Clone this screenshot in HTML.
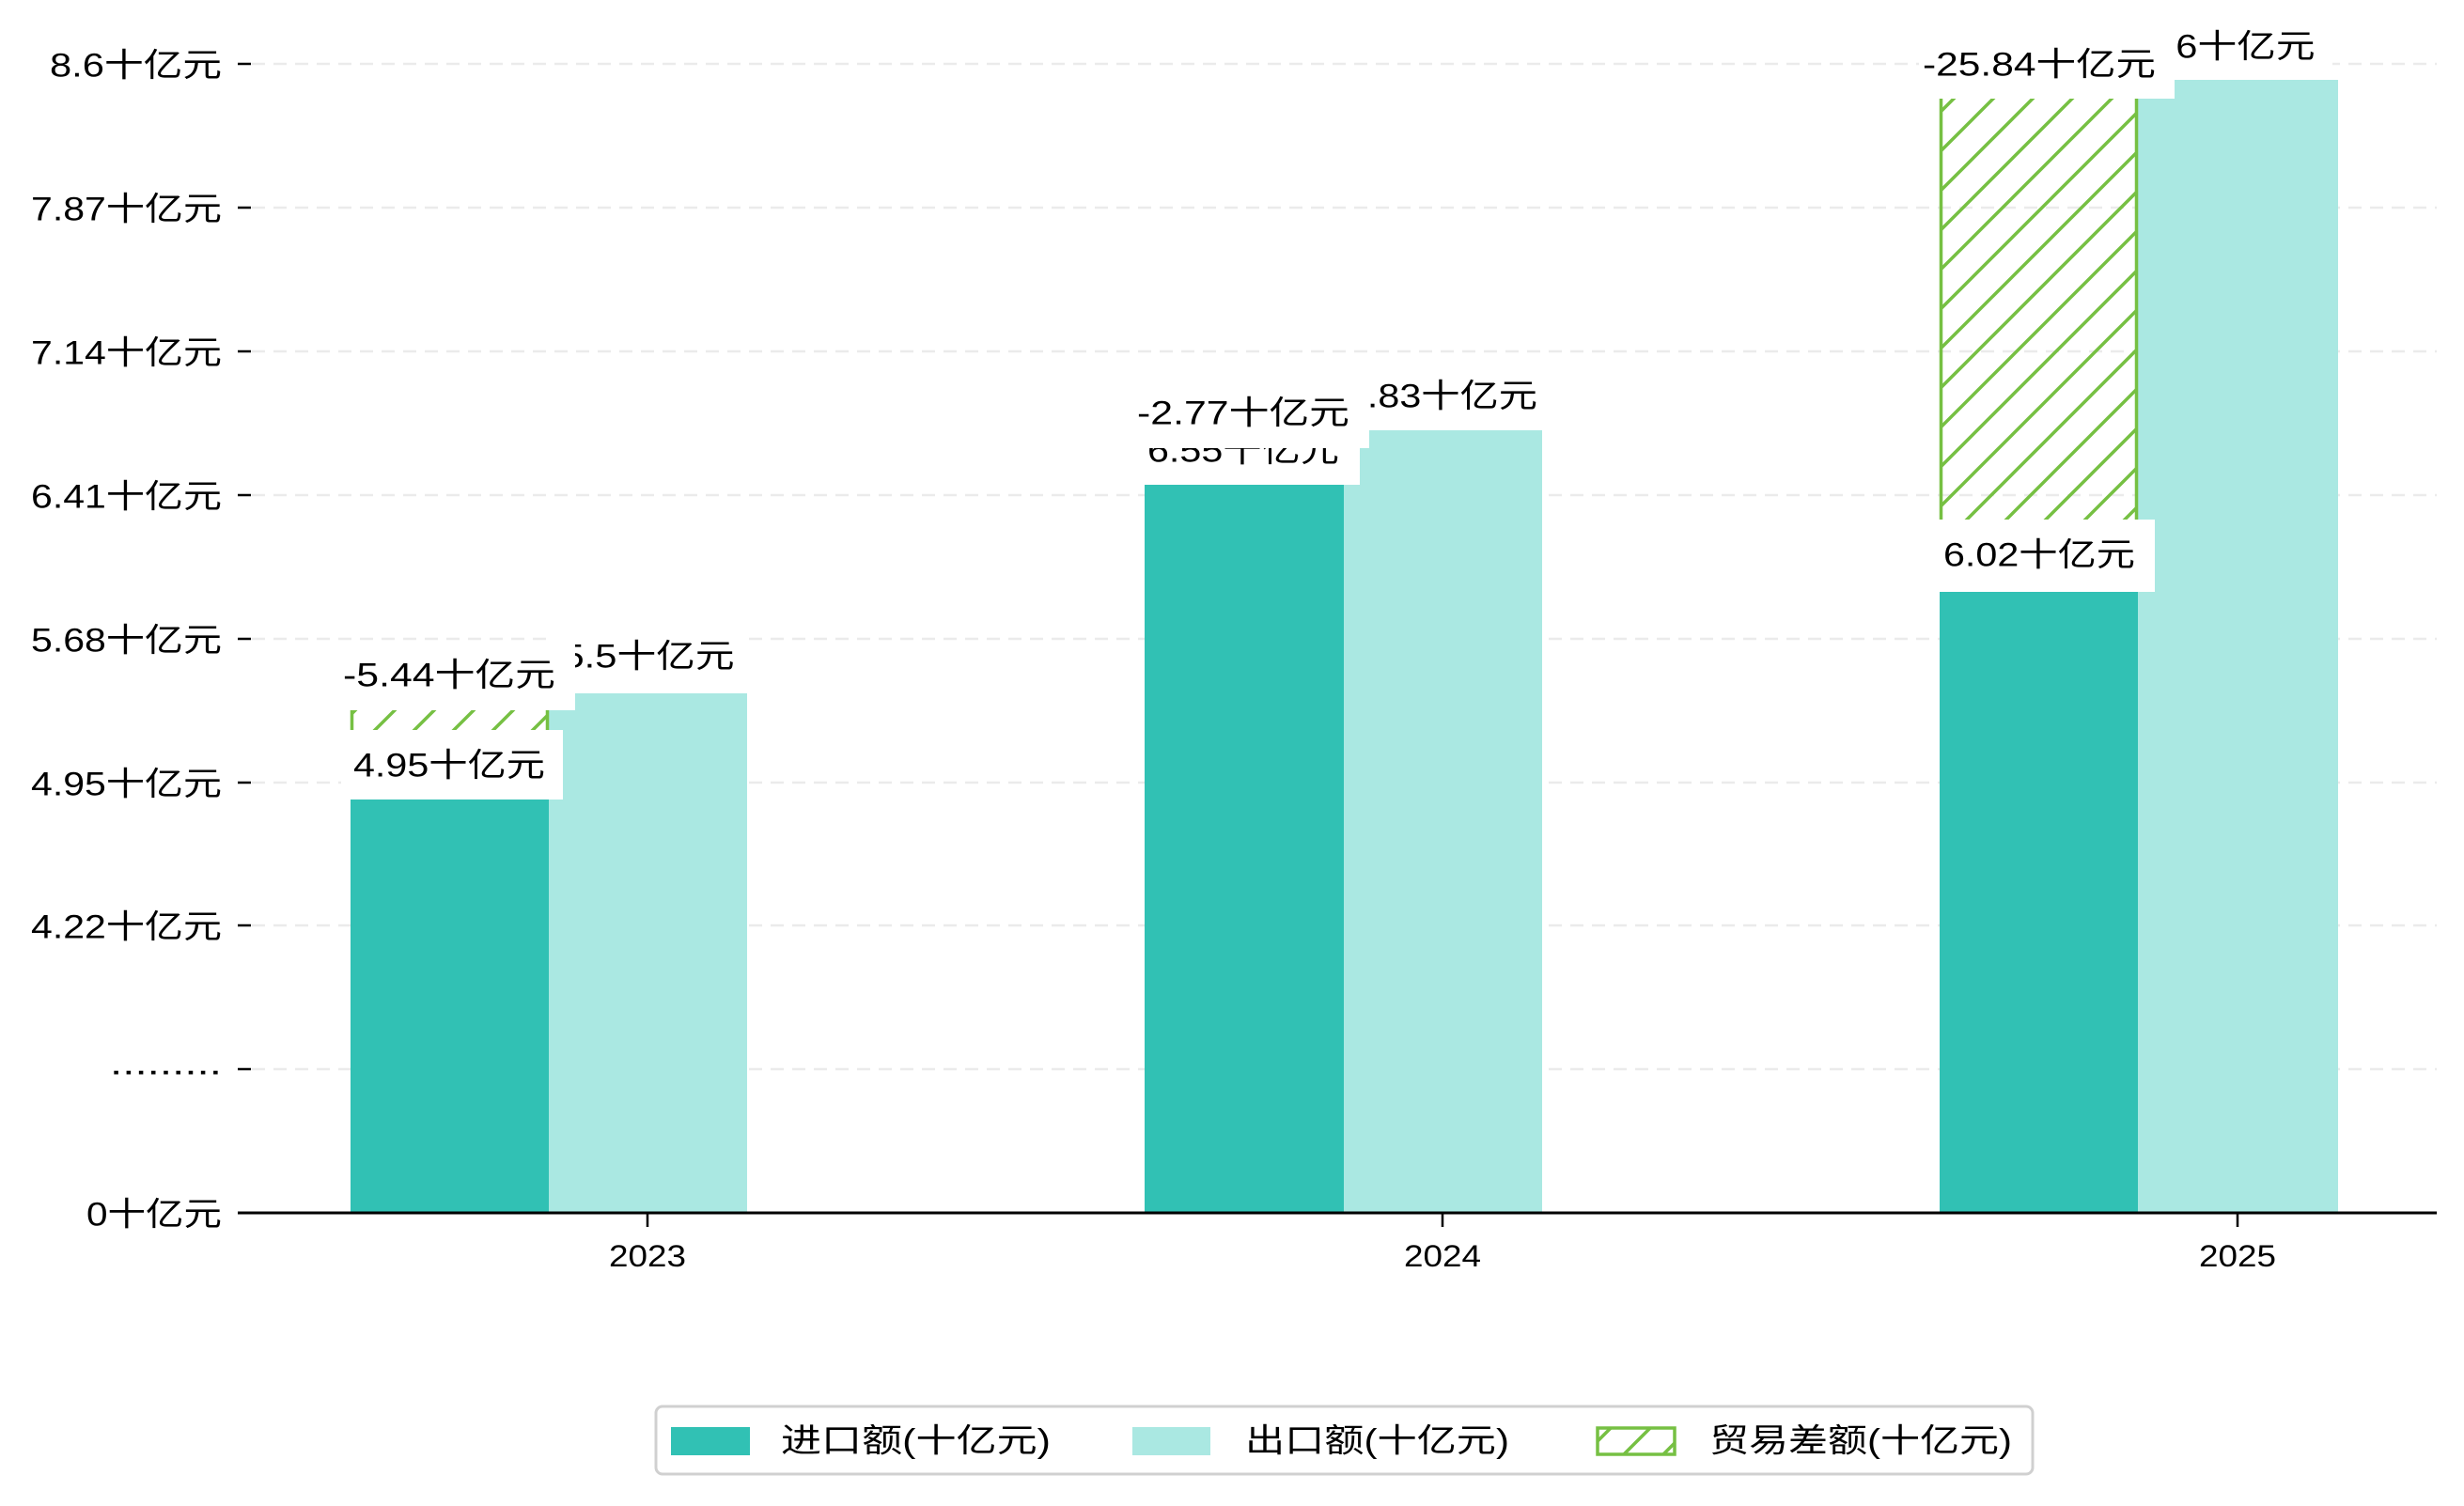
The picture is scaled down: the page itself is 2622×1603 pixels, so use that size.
<!DOCTYPE html>
<html><head><meta charset="utf-8"><style>
html,body{margin:0;padding:0;background:#fff}
svg text{font-family:"Liberation Sans","Noto Sans CJK SC",sans-serif;fill:#000}
</style></head><body>
<svg width="2622" height="1598" viewBox="0 0 2622 1598" xmlns="http://www.w3.org/2000/svg">
<defs>
<pattern id="h" patternUnits="userSpaceOnUse" width="42" height="42">
<line x1="-10" y1="52" x2="52" y2="-10" stroke="#76c043" stroke-width="3.5"/>
<line x1="-52" y1="52" x2="10" y2="-10" stroke="#76c043" stroke-width="3.5"/>
<line x1="32" y1="52" x2="94" y2="-10" stroke="#76c043" stroke-width="3.5"/>
</pattern>
</defs>
<rect width="2622" height="1598" fill="#fff"/>
<g stroke="#ebebeb" stroke-width="2.5" stroke-dasharray="14 9">
<line x1="268" y1="68" x2="2593" y2="68"/>
<line x1="268" y1="221" x2="2593" y2="221"/>
<line x1="268" y1="374" x2="2593" y2="374"/>
<line x1="268" y1="527" x2="2593" y2="527"/>
<line x1="268" y1="680" x2="2593" y2="680"/>
<line x1="268" y1="833" x2="2593" y2="833"/>
<line x1="268" y1="985" x2="2593" y2="985"/>
<line x1="268" y1="1138" x2="2593" y2="1138"/>
</g>
<g stroke="#000" stroke-width="2.5">
<line x1="253" y1="68" x2="267" y2="68"/>
<line x1="253" y1="221" x2="267" y2="221"/>
<line x1="253" y1="374" x2="267" y2="374"/>
<line x1="253" y1="527" x2="267" y2="527"/>
<line x1="253" y1="680" x2="267" y2="680"/>
<line x1="253" y1="833" x2="267" y2="833"/>
<line x1="253" y1="985" x2="267" y2="985"/>
<line x1="253" y1="1138" x2="267" y2="1138"/>
</g>
<g font-size="35" text-anchor="end" dominant-baseline="central">
<text x="236" y="70" textLength="183" lengthAdjust="spacingAndGlyphs">8.6十亿元</text>
<text x="236" y="223" textLength="203" lengthAdjust="spacingAndGlyphs">7.87十亿元</text>
<text x="236" y="376" textLength="203" lengthAdjust="spacingAndGlyphs">7.14十亿元</text>
<text x="236" y="529" textLength="203" lengthAdjust="spacingAndGlyphs">6.41十亿元</text>
<text x="236" y="682" textLength="203" lengthAdjust="spacingAndGlyphs">5.68十亿元</text>
<text x="236" y="835" textLength="203" lengthAdjust="spacingAndGlyphs">4.95十亿元</text>
<text x="236" y="987" textLength="203" lengthAdjust="spacingAndGlyphs">4.22十亿元</text>
<text x="236" y="1132" textLength="119" lengthAdjust="spacingAndGlyphs">.........</text>
<text x="236" y="1293" textLength="144" lengthAdjust="spacingAndGlyphs">0十亿元</text>
</g>
<g>
<rect x="373" y="851" width="211" height="440" fill="#31c1b4"/>
<rect x="584" y="738" width="211" height="553" fill="#aae8e2"/>
<rect x="373" y="756" width="211" height="95" fill="url(#h)"/>
<line x1="374.5" y1="756" x2="374.5" y2="851" stroke="#76c043" stroke-width="3.5"/>
<line x1="582.5" y1="756" x2="582.5" y2="851" stroke="#76c043" stroke-width="3.5"/>
<rect x="1218" y="516" width="212" height="775" fill="#31c1b4"/>
<rect x="1430" y="458" width="211" height="833" fill="#aae8e2"/>
<rect x="2064" y="629" width="211" height="662" fill="#31c1b4"/>
<rect x="2275" y="85" width="213" height="1206" fill="#aae8e2"/>
<rect x="2064" y="105" width="211" height="524" fill="url(#h)"/>
<line x1="2065.5" y1="105" x2="2065.5" y2="629" stroke="#76c043" stroke-width="3.5"/>
<line x1="2273.5" y1="105" x2="2273.5" y2="629" stroke="#76c043" stroke-width="3.5"/>
</g>
<line x1="253" y1="1291" x2="2593" y2="1291" stroke="#000" stroke-width="3"/>
<g stroke="#000" stroke-width="2.5">
<line x1="689" y1="1291" x2="689" y2="1306"/>
<line x1="1535" y1="1291" x2="1535" y2="1306"/>
<line x1="2381" y1="1291" x2="2381" y2="1306"/>
</g>
<g font-size="32" text-anchor="middle" dominant-baseline="central">
<text x="689" y="1337" textLength="82" lengthAdjust="spacingAndGlyphs">2023</text>
<text x="1535" y="1337" textLength="82" lengthAdjust="spacingAndGlyphs">2024</text>
<text x="2381" y="1337" textLength="82" lengthAdjust="spacingAndGlyphs">2025</text>
</g>
<g font-size="35" text-anchor="middle" dominant-baseline="central">
<rect x="586" y="662" width="208" height="74" fill="#fff"/>
<text x="690" y="699" textLength="183" lengthAdjust="spacingAndGlyphs">5.5十亿元</text>
<rect x="363" y="777" width="236" height="74" fill="#fff"/>
<text x="478" y="815" textLength="204" lengthAdjust="spacingAndGlyphs">4.95十亿元</text>
<rect x="352" y="683" width="260" height="73" fill="#fff"/>
<text x="478" y="719" textLength="226" lengthAdjust="spacingAndGlyphs">-5.44十亿元</text>

<rect x="1420" y="385" width="228" height="73" fill="#fff"/>
<text x="1534" y="422" textLength="204" lengthAdjust="spacingAndGlyphs">6.83十亿元</text>
<rect x="1213" y="443" width="234" height="73" fill="#fff"/>
<text x="1323" y="480" textLength="204" lengthAdjust="spacingAndGlyphs">6.55十亿元</text>
<rect x="1198" y="404" width="259" height="73" fill="#fff"/>
<text x="1323" y="440" textLength="226" lengthAdjust="spacingAndGlyphs">-2.77十亿元</text>

<rect x="2262" y="12" width="220" height="73" fill="#fff"/>
<text x="2372" y="50" textLength="183" lengthAdjust="spacingAndGlyphs">8.6十亿元</text>
<rect x="2055" y="553" width="238" height="77" fill="#fff"/>
<text x="2170" y="591" textLength="204" lengthAdjust="spacingAndGlyphs">6.02十亿元</text>
<rect x="2042" y="32" width="272" height="73" fill="#fff"/>
<text x="2170" y="69" textLength="248" lengthAdjust="spacingAndGlyphs">-25.84十亿元</text>
</g>
<rect x="698" y="1497" width="1465" height="72" rx="7" fill="#fff" stroke="#d0d0d0" stroke-width="3"/>
<rect x="714" y="1519" width="84" height="30" fill="#31c1b4"/>
<rect x="1205" y="1519" width="83" height="30" fill="#aae8e2"/>
<rect x="1700" y="1520" width="82" height="28" fill="url(#h)" stroke="#76c043" stroke-width="3.5"/>
<g font-size="35" dominant-baseline="central">
<text x="831" y="1534" textLength="287" lengthAdjust="spacingAndGlyphs">进口额(十亿元)</text>
<text x="1325" y="1534" textLength="281" lengthAdjust="spacingAndGlyphs">出口额(十亿元)</text>
<text x="1819" y="1534" textLength="322" lengthAdjust="spacingAndGlyphs">贸易差额(十亿元)</text>
</g>
</svg>
</body></html>
